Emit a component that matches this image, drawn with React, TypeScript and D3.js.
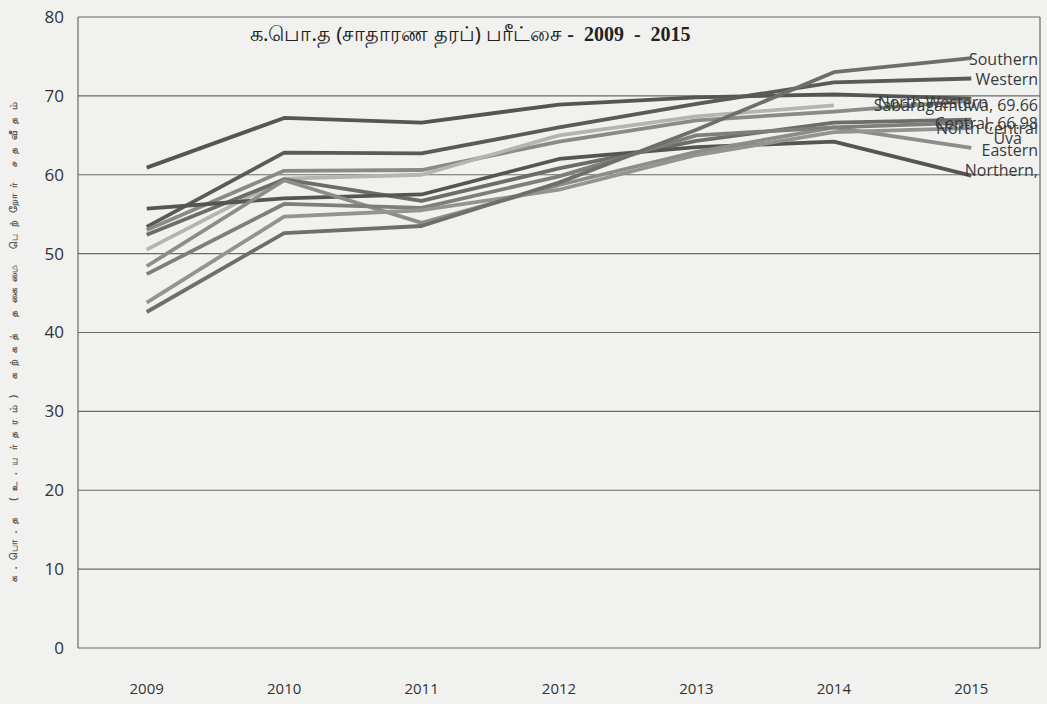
import React from "react";
import * as d3 from "d3";

const years = ["2009", "2010", "2011", "2012", "2013", "2014", "2015"];
const yTicks = [0, 10, 20, 30, 40, 50, 60, 70, 80];

const seriesNames = [
  "North Western",
  "Western",
  "Sabaragamuwa",
  "",
  "Central",
  "Northern",
  "Eastern",
  "North Central",
  "Uva",
  "Southern",
];

const nwValues = [60.9, 67.2, 66.6, 68.9, 69.8, 70.2, 69.66];
const westernValues = [53.4, 62.8, 62.7, 66.0, 69.0, 71.7, 72.2];
const sabaragamuwaValues = [53.0, 60.5, 60.6, 64.2, 66.9, 68.0, 69.4];
const unlabelledValues = [50.5, 59.5, 60.0, 65.0, 67.4, 68.8, null];
const centralValues = [52.4, 59.4, 56.7, 60.8, 64.3, 66.6, 66.98];
const northernValues = [55.7, 57.0, 57.5, 62.0, 63.5, 64.2, 59.9];
const easternValues = [48.4, 59.3, 53.9, 58.7, 62.9, 66.0, 63.4];
const northCentralValues = [47.4, 56.3, 55.8, 59.8, 65.0, 66.0, 66.6];
const uvaValues = [43.8, 54.7, 55.5, 58.1, 62.5, 65.4, 65.9];
const southernValues = [42.6, 52.6, 53.5, 59.0, 65.7, 73.0, 74.8];

const seriesValues = [
  nwValues,
  westernValues,
  sabaragamuwaValues,
  unlabelledValues,
  centralValues,
  northernValues,
  easternValues,
  northCentralValues,
  uvaValues,
  southernValues,
];

const endLabels = [
  "North Western",
  "Western",
  "Sabaragamuwa, 69.66",
  "",
  "Central, 66.98",
  "Northern,",
  "Eastern",
  "North Central",
  "Uva",
  "Southern",
];

const title = "க.பொ.த (சாதாரண தரப்) பரீட்சை";
const titleYears = " -  2009  -  2015";
const yTitle = "க.பொ.த (உ.யர்தரம்) கற்கத் தகைமை பெற்றோர் சதவீதம்";

const seriesColors = [
  "#555553",
  "#5a5a58",
  "#8a8a88",
  "#b4b5b2",
  "#6c6c6a",
  "#555553",
  "#8c8c8a",
  "#7e7e7c",
  "#939391",
  "#6e6e6c",
];

export default function App() {
  const W = 1047;
  const H = 704;
  const left = 78;
  const right = 1040;
  const top = 17;
  const bottom = 648;

  const x = d3.scaleBand().domain(years).range([left, right]).padding(0);
  const y = d3.scaleLinear().domain([0, 80]).range([bottom, top]);
  const cx = (yr: string) => (x(yr) as number) + x.bandwidth() / 2;

  const line = d3
    .line<number | null>()
    .defined((d) => d !== null)
    .x((_, i) => cx(years[i]))
    .y((d) => y(d as number));

  // label vertical nudges (px) and right edges, as placed in the reference
  const labelOffsets = [4, 1, 5, 0, 4, -5, 2, 6, 10, 1];
  const labelRight = [988, 1038, 1038, 1038, 1038, 1038, 1038, 1038, 1022, 1038];

  return (
    <svg
      width={W}
      height={H}
      style={{ position: "absolute", left: 0, top: 0, display: "block" }}
    >
      <rect x={0} y={0} width={W} height={H} fill="#f1f2ef" />
      {yTicks.map((t) => (
        <line
          key={"g" + t}
          x1={left}
          x2={right}
          y1={y(t)}
          y2={y(t)}
          stroke="#6a6a68"
          strokeWidth={1.2}
        />
      ))}
      <line x1={left} x2={left} y1={top} y2={bottom} stroke="#6a6a68" strokeWidth={1.2} />
      <line x1={right} x2={right} y1={top} y2={bottom} stroke="#6a6a68" strokeWidth={1.2} />
      {yTicks.map((t) => (
        <text
          key={"yl" + t}
          x={64}
          y={y(t)}
          dy="0.35em"
          textAnchor="end"
          fontFamily="'Open Sans', 'Liberation Sans', sans-serif"
          fontSize={17}
          fill="#333"
        >
          {t}
        </text>
      ))}
      {years.map((yr) => (
        <text
          key={"xl" + yr}
          x={cx(yr)}
          y={694}
          textAnchor="middle"
          fontFamily="'Liberation Sans Narrow', 'Open Sans', sans-serif"
          fontSize={15}
          fill="#333"
        >
          {yr}
        </text>
      ))}
      <text
        transform={`translate(17, 342) rotate(-90)`}
        textAnchor="middle"
        fontFamily="'Noto Sans', sans-serif"
        fontSize={10}
        fontWeight="bold"
        fill="#555"
        textLength={480}
        lengthAdjust="spacing"
      >
        {yTitle}
      </text>
      <text
        x={250}
        y={41}
        fontFamily="'Noto Sans', 'DejaVu Sans', sans-serif"
        fontSize={20.5}
        fill="#222"
      >
        {title}
        <tspan
          fontFamily="'Liberation Serif', serif"
          fontWeight="bold"
          fontSize={20}
          style={{ whiteSpace: "pre" }}
        >
          {titleYears}
        </tspan>
      </text>
      {seriesValues.map((vals, i) => (
        <path
          key={"s" + i}
          d={line(vals) || ""}
          fill="none"
          stroke={seriesColors[i]}
          strokeWidth={3.8}
          strokeLinejoin="round"
        />
      ))}
      {seriesValues.map((vals, i) => {
        const v = vals[vals.length - 1];
        if (v === null || !endLabels[i]) return null;
        return (
          <text
            key={"el" + i}
            x={labelRight[i]}
            y={y(v) + labelOffsets[i]}
            dy="0.35em"
            textAnchor="end"
            fontFamily="'Open Sans', 'Liberation Sans', sans-serif"
            fontSize={16}
            fill="#3a3a3a"
          >
            {endLabels[i]}
          </text>
        );
      })}
    </svg>
  );
}
